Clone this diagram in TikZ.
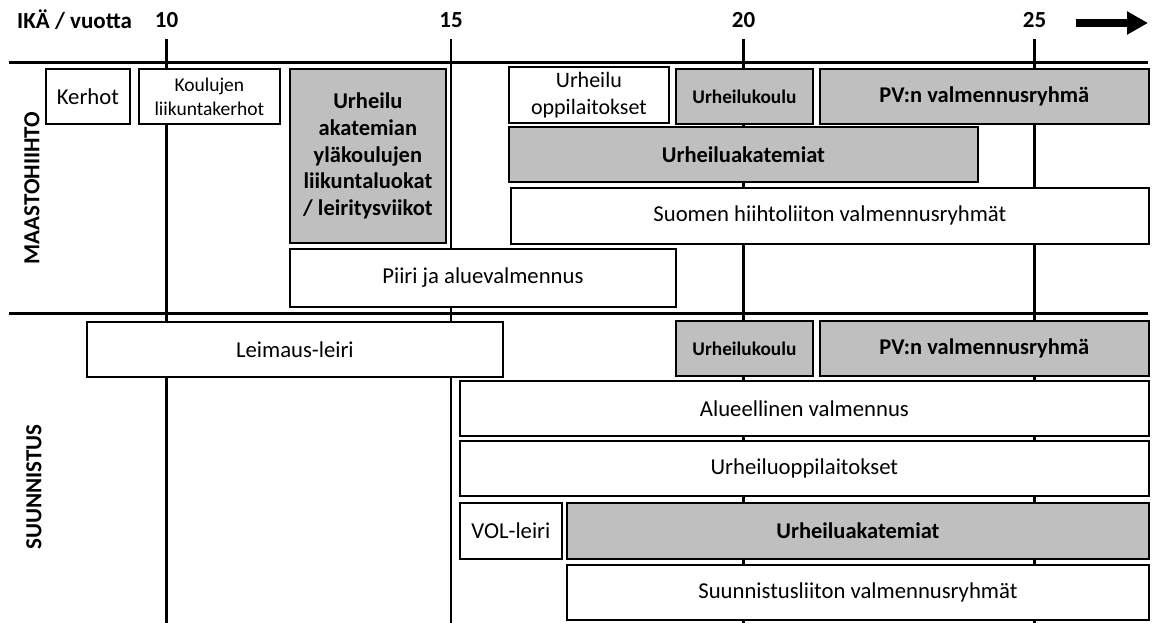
\documentclass[tikz,border=0pt]{standalone}
\usepackage{fontspec}
\setmainfont{Carlito}
\usetikzlibrary{arrows.meta}
\definecolor{boxgray}{RGB}{191,191,191}
\tikzset{
  box/.style={draw=black, line width=1.8pt, fill=white, inner sep=0pt, anchor=north west, align=center,
    font=\fontsize{22.7}{27}\selectfont},
  graybox/.style={box, fill=boxgray, font=\fontsize{22.5}{26.7}\selectfont\bfseries},
  axis/.style={line width=2.6pt, black},
  tick/.style={font=\fontsize{23}{26}\selectfont\bfseries},
  sect/.style={font=\fontsize{23}{26}\selectfont\bfseries, rotate=90}
}
\begin{document}
\begin{tikzpicture}[x=1pt,y=-1pt]
\useasboundingbox (0,0) rectangle (1157,623);
% axis lines
\coordinate (h1a) at (9,62.5); \coordinate (h1b) at (1148,62.5);
\coordinate (h2a) at (9,313.5); \coordinate (h2b) at (1148,313.5);
\foreach \n/\x in {10/166.5,15/451,20/743.5,25/1034.5}{
  \coordinate (v\n a) at (\x,39); \coordinate (v\n b) at (\x,623);
  \draw[axis] (v\n a) -- (v\n b);
  \node[tick] (t\n) at (\x,20) {\n};
}
\draw[axis] (h1a) -- (h1b);
\draw[axis] (h2a) -- (h2b);
\node[font=\fontsize{23}{26}\selectfont\bfseries, anchor=west, inner sep=0pt] (ika) at (17,20) {IKÄ / vuotta};
\coordinate (arra) at (1076,23); \coordinate (arrb) at (1148,23);
\draw[line width=8pt, -{Triangle[length=21pt,width=22pt]}] (arra) -- (arrb);
% section labels
\node[sect] (maasto) at (32,188) {MAASTOHIIHTO};
\node[sect] (suunn) at (34,487) {SUUNNISTUS};
% MAASTOHIIHTO boxes
\node[box, minimum width=84pt, minimum height=55pt] (kerhot) at (45,68.5) {Kerhot};
\node[box, minimum width=141pt, minimum height=55pt, font=\fontsize{19.5}{24}\selectfont] (koulujen) at (138,68.5) {Koulujen\\liikuntakerhot};
\node[graybox, minimum width=156pt, minimum height=174pt] (akat1) at (289,68) {Urheilu\\akatemian\\yläkoulujen\\liikuntaluokat\\/ leiritysviikot};
\node[box, minimum width=386pt, minimum height=58pt] (piiri) at (289,248) {Piiri ja aluevalmennus};
\node[box, minimum width=160pt, minimum height=56pt, font=\fontsize{22}{27}\selectfont] (uoppi1) at (508,66) {Urheilu\\oppilaitokset};
\node[graybox, minimum width=137pt, minimum height=55pt, font=\fontsize{19.3}{22}\selectfont\bfseries] (ukoulu1) at (675,68) {Urheilukoulu};
\node[graybox, minimum width=329pt, minimum height=55pt] (pv1) at (819,68) {PV:n valmennusryhmä};
\node[graybox, minimum width=469pt, minimum height=55pt] (uakat1) at (508,126) {Urheiluakatemiat};
\node[box, minimum width=638pt, minimum height=56pt] (suomen) at (510,187) {Suomen hiihtoliiton valmennusryhmät};
% SUUNNISTUS boxes
\node[box, minimum width=416pt, minimum height=55pt] (leimaus) at (86,321) {Leimaus-leiri};
\node[graybox, minimum width=137pt, minimum height=55pt, font=\fontsize{19.3}{22}\selectfont\bfseries] (ukoulu2) at (675,320) {Urheilukoulu};
\node[graybox, minimum width=329pt, minimum height=55pt] (pv2) at (819,320) {PV:n valmennusryhmä};
\node[box, minimum width=689pt, minimum height=55pt] (alue) at (459,380) {Alueellinen valmennus};
\node[box, minimum width=689pt, minimum height=55pt] (uoppi2) at (459,440) {Urheiluoppilaitokset};
\node[box, minimum width=102pt, minimum height=56pt] (vol) at (459,502) {VOL-leiri};
\node[graybox, minimum width=582pt, minimum height=56pt] (uakat2) at (566,502) {Urheiluakatemiat};
\node[box, minimum width=582pt, minimum height=55pt] (suunnl) at (566,564) {Suunnistusliiton valmennusryhmät};
\end{tikzpicture}
\end{document}
